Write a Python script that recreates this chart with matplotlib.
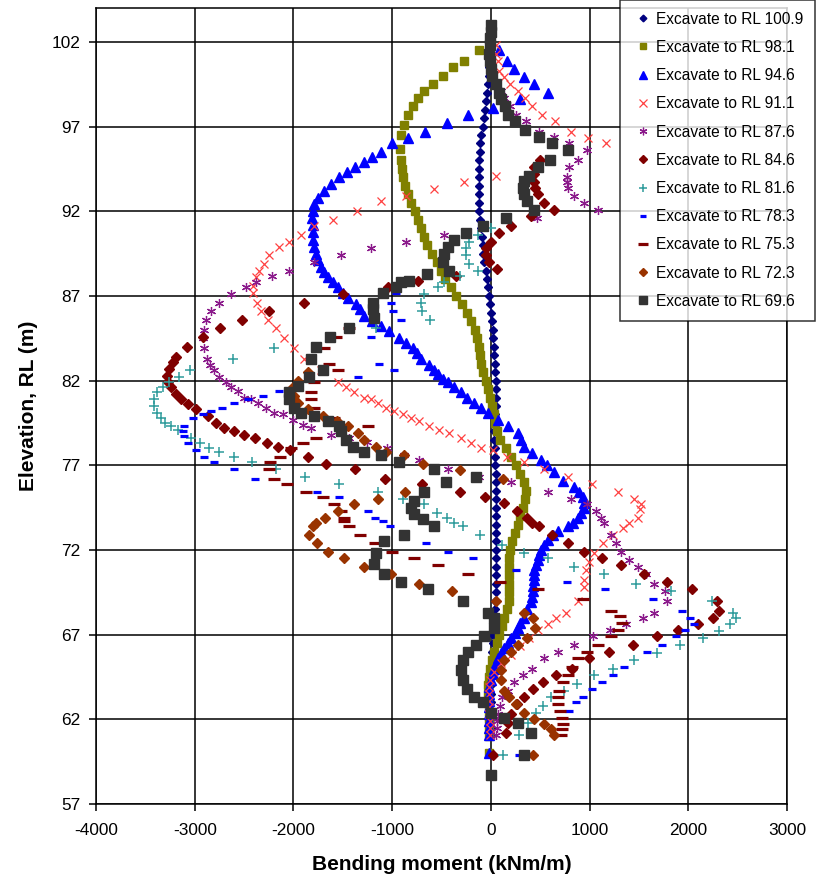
import matplotlib
matplotlib.use("Agg")
import matplotlib.pyplot as plt

plt.rcParams['font.family'] = ['Liberation Sans', 'DejaVu Sans']
plt.rcParams['axes.unicode_minus'] = False

# (elevation RL m, bending moment kNm/m)
rl_100_9 = [(103.0, 0), (102.5, 0), (102.0, -5), (101.5, -10), (101.0, -10), (100.5, -15), (100.0, -20),
            (99.5, -25), (99.0, -35), (98.5, -45), (98.0, -55), (97.5, -70), (97.0, -80), (96.5, -95),
            (96.0, -105), (95.5, -115), (95.0, -120), (94.5, -125), (94.0, -125), (93.5, -125), (93.0, -125),
            (92.5, -120), (92.0, -120), (91.5, -110), (91.0, -100), (90.5, -90), (90.0, -80), (89.5, -75),
            (89.0, -65), (88.5, -50), (88.0, -40), (87.5, -30), (87.0, -20), (86.5, -5), (86.0, 5),
            (85.5, 15), (85.0, 20), (84.5, 25), (84.0, 30), (83.5, 35), (83.0, 40), (82.5, 45), (82.0, 50),
            (81.5, 50), (81.0, 50), (80.5, 50), (80.0, 45), (79.5, 40), (79.0, 30), (78.5, 35), (78.0, 40),
            (77.5, 40), (77.0, 45), (76.5, 50), (76.0, 50), (75.5, 55), (75.0, 55), (74.5, 55), (74.0, 55),
            (73.5, 55), (73.0, 55), (72.5, 55), (72.0, 55), (71.5, 55), (71.0, 50), (70.5, 50), (70.0, 50),
            (69.5, 50), (69.0, 45), (68.5, 40), (68.0, 35), (67.5, 30), (67.0, 25), (66.5, 20), (66.0, 15),
            (65.5, 10), (65.0, 5), (64.5, 0), (64.0, 0), (63.5, 0), (63.0, 0), (62.5, 0), (62.0, 0),
            (61.5, 0), (61.0, 0)]

rl_98_1 = [(101.5, -122), (100.9, -274), (100.5, -385), (100.0, -487), (99.5, -588), (99.1, -679),
           (98.7, -740), (98.2, -791), (97.7, -842), (97.1, -882), (96.5, -913), (95.7, -923), (95.0, -913),
           (94.5, -905), (94.0, -895), (93.5, -870), (93.0, -835), (92.5, -805), (92.0, -770), (91.5, -735),
           (91.0, -712), (90.5, -680), (90.0, -645), (89.5, -600), (89.0, -550), (88.5, -505), (88.0, -460),
           (87.5, -400), (87.0, -350), (86.5, -295), (86.0, -245), (85.5, -200), (85.0, -165), (84.5, -140),
           (84.0, -120), (83.5, -108), (83.0, -95), (82.5, -75), (82.0, -50), (81.5, -25), (81.0, -5),
           (80.5, 15), (80.0, 30), (79.5, 45), (79.0, 65), (78.5, 90), (78.0, 150), (77.5, 200), (77.0, 250),
           (76.5, 300), (76.0, 335), (75.5, 355), (75.0, 345), (74.5, 325), (74.0, 300), (73.5, 270),
           (73.0, 240), (72.5, 215), (72.0, 195), (71.5, 185), (71.0, 180), (70.5, 180), (70.0, 180),
           (69.5, 180), (69.0, 180), (68.5, 160), (68.0, 135), (67.5, 110), (67.0, 85), (66.5, 60),
           (66.0, 35), (65.5, 10), (65.0, -10), (64.5, -20), (64.0, -30), (63.5, -30), (63.0, -25),
           (62.5, -20), (62.0, -20), (61.5, -15), (61.0, -15), (60.0, -20)]

rl_94_6 = [(101.5, 81), (100.9, 162), (100.4, 233), (99.9, 335), (99.5, 436), (99.0, 578), (98.6, 294),
           (98.1, 20), (97.7, -233), (97.2, -446), (96.7, -669), (96.3, -842), (96.0, -1004), (95.5, -1115),
           (95.2, -1200), (94.9, -1290), (94.6, -1380), (94.3, -1460), (94.0, -1540), (93.6, -1620),
           (93.2, -1690), (92.8, -1750), (92.4, -1790), (92.0, -1805), (91.6, -1810), (91.2, -1805),
           (90.8, -1805), (90.3, -1805), (89.9, -1790), (89.5, -1775), (89.1, -1750), (88.7, -1724),
           (88.4, -1690), (88.1, -1653), (87.8, -1600), (87.5, -1551), (87.2, -1500), (86.9, -1450),
           (86.5, -1369), (86.2, -1330), (85.8, -1288), (85.5, -1200), (85.2, -1115), (84.9, -1034),
           (84.5, -933), (84.2, -860), (83.9, -791), (83.6, -750), (83.3, -710), (82.9, -629), (82.6, -580),
           (82.4, -537), (82.1, -480), (81.9, -436), (81.6, -370), (81.3, -304), (81.0, -240), (80.7, -172),
           (80.4, -100), (80.1, -30), (79.7, 71), (79.3, 172), (78.9, 274), (78.5, 305), (78.1, 335),
           (77.7, 420), (77.3, 507), (77.0, 570), (76.6, 639), (76.1, 730), (75.7, 842), (75.4, 890),
           (75.1, 933), (74.8, 945), (74.5, 943), (74.2, 915), (73.9, 882), (73.6, 830), (73.4, 781),
           (73.1, 679), (72.9, 630), (72.6, 578), (72.3, 540), (72.0, 507), (71.7, 490), (71.4, 477),
           (71.1, 455), (70.8, 436), (70.5, 436), (70.2, 436), (69.9, 430), (69.6, 426), (69.2, 415),
           (68.9, 406), (68.5, 370), (68.0, 335), (67.7, 300), (67.4, 274), (67.1, 245), (66.8, 205),
           (66.5, 172), (66.2, 135), (65.9, 101), (65.6, 75), (65.3, 51), (65.0, 35), (64.7, 20), (64.3, 0),
           (63.9, -20), (63.5, -20), (63.1, -20), (62.7, -20), (62.3, -20), (61.9, -20), (61.5, -20),
           (61.1, -20), (60.0, -20)]

rl_91_1 = [(101.8, 51), (101.3, 55), (100.9, 71), (100.3, 81), (99.9, 132), (99.5, 193), (99.1, 274),
           (98.7, 345), (98.2, 416), (97.7, 517), (97.3, 649), (96.7, 811), (96.3, 984), (96.0, 1166),
           (94.1, 51), (93.7, -274), (93.3, -578), (92.9, -862), (92.6, -1115), (92.0, -1360), (91.5, -1602),
           (91.1, -1795), (90.6, -1927), (90.2, -2048), (89.9, -2150), (89.4, -2251), (88.9, -2302),
           (88.5, -2352), (88.1, -2383), (87.6, -2413), (87.2, -2413), (86.6, -2373), (86.1, -2332),
           (85.6, -2261), (85.1, -2180), (84.5, -2099), (83.9, -1998), (83.3, -1896), (82.6, -1720),
           (81.9, -1551), (81.6, -1470), (81.3, -1389), (81.0, -1288), (80.9, -1217), (80.7, -1146),
           (80.4, -1065), (80.2, -984), (80.0, -892), (79.8, -811), (79.6, -730), (79.3, -629), (79.1, -527),
           (78.9, -426), (78.6, -304), (78.3, -203), (78.0, -101), (77.9, 20), (77.5, 162), (77.2, 335),
           (76.8, 537), (76.3, 781), (75.9, 1024), (75.4, 1288), (75.0, 1450), (74.7, 1521), (74.4, 1511),
           (73.9, 1490), (73.6, 1399), (73.3, 1338), (72.9, 1237), (72.4, 1136), (71.8, 1044), (71.3, 994),
           (70.8, 963), (70.2, 943), (69.8, 943), (69.0, 882), (68.3, 760), (68.0, 659), (67.6, 578),
           (67.3, 477), (66.8, 385), (66.3, 300), (65.8, 200), (65.3, 100), (64.8, 30), (64.3, -10),
           (63.9, -20), (63.5, -20), (63.1, -20), (62.7, -20), (62.3, -15), (61.9, -10), (61.5, -10),
           (61.1, -10)]

rl_87_6 = [(99.5, 60), (99.1, 100), (98.7, 132), (98.2, 190), (97.7, 254), (97.3, 355), (96.7, 487),
           (96.4, 639), (96.0, 791), (95.6, 973), (95.0, 882), (94.6, 791), (94.0, 771), (93.7, 775),
           (93.4, 781), (92.9, 842), (92.5, 943), (92.1, 1085), (91.6, 470), (90.6, -477), (90.2, -862),
           (89.8, -1217), (89.4, -1521), (89.0, -1795), (88.5, -2048), (88.2, -2221), (87.8, -2383),
           (87.5, -2484), (87.1, -2636), (86.6, -2758), (86.1, -2839), (85.6, -2890), (85.0, -2910),
           (84.5, -2915), (83.9, -2910), (83.3, -2880), (82.9, -2849), (82.6, -2809), (82.2, -2758),
           (81.9, -2687), (81.6, -2636), (81.4, -2565), (81.0, -2505), (80.9, -2434), (80.7, -2363),
           (80.4, -2282), (80.1, -2200), (80.0, -2109), (79.7, -2008), (79.4, -1906), (79.2, -1825),
           (78.8, -1622), (78.6, -1440), (78.4, -1250), (78.0, -1050), (77.6, -880), (77.3, -730),
           (76.8, -436), (76.3, -122), (76.0, 203), (75.4, 578), (75.0, 811), (74.7, 973), (74.3, 1065),
           (73.9, 1115), (73.6, 1146), (72.9, 1217), (72.4, 1268), (71.9, 1318), (71.4, 1399), (71.0, 1490),
           (70.6, 1572), (70.0, 1653), (69.6, 1764), (69.0, 1785), (68.3, 1653), (68.0, 1541), (67.6, 1369),
           (67.3, 1207), (66.9, 1034), (66.4, 842), (66.0, 679), (65.6, 537), (65.0, 416), (64.6, 325),
           (64.2, 233), (63.7, 172), (63.3, 112), (62.8, 91), (62.3, 71), (61.9, 65), (61.5, 61), (61.1, 51)]

rl_84_6 = [(95.0, 497), (94.6, 436), (94.2, 436), (93.7, 436), (93.4, 446), (93.0, 477), (92.5, 537),
           (92.1, 639), (91.7, 406), (91.1, 203), (90.7, 81), (90.2, 0), (89.8, -51), (89.4, -51),
           (89.0, -20), (88.6, 61), (88.2, -355), (87.9, -740), (87.5, -1044), (87.1, -1500), (86.6, -1896),
           (86.1, -2251), (85.6, -2525), (85.1, -2748), (84.6, -2920), (84.0, -3083), (83.4, -3194),
           (83.1, -3225), (82.7, -3265), (82.3, -3285), (81.9, -3275), (81.6, -3245), (81.2, -3194),
           (80.9, -3143), (80.6, -3072), (80.3, -2991), (79.9, -2870), (79.5, -2789), (79.2, -2707),
           (79.0, -2606), (78.8, -2505), (78.6, -2393), (78.3, -2271), (78.1, -2160), (77.9, -2038),
           (77.5, -1856), (77.1, -1673), (76.8, -1379), (76.2, -1075), (75.9, -700), (75.4, -314),
           (75.1, -61), (74.8, 132), (74.3, 264), (73.9, 365), (73.6, 416), (73.4, 487), (72.9, 619),
           (72.4, 781), (71.9, 943), (71.5, 1126), (71.1, 1318), (70.6, 1551), (70.1, 1785), (69.7, 2038),
           (69.0, 2292), (68.4, 2312), (68.0, 2251), (67.6, 2099), (67.3, 1896), (66.9, 1683), (66.4, 1440),
           (66.0, 1196), (65.6, 994), (65.0, 821), (64.6, 659), (64.2, 527), (63.8, 426), (63.3, 335),
           (62.9, 264), (62.3, 203), (61.8, 172), (61.2, 152), (59.9, 20)]

rl_81_6 = [(91.0, 0), (90.6, -132), (90.2, -223), (89.8, -254), (89.4, -254), (88.9, -223), (88.5, -132),
           (88.2, -314), (87.8, -477), (87.5, -537), (87.1, -679), (86.6, -710), (86.1, -700), (85.6, -618),
           (85.1, -1166), (83.9, -2200), (83.3, -2616), (82.6, -3052), (82.2, -3164), (81.9, -3265),
           (81.6, -3326), (81.3, -3377), (80.9, -3417), (80.5, -3417), (80.1, -3387), (79.8, -3346),
           (79.5, -3296), (79.3, -3245), (79.1, -3174), (78.6, -3042), (78.3, -2951), (78.0, -2859),
           (77.8, -2758), (77.5, -2606), (77.2, -2424), (76.8, -2180), (76.3, -1886), (75.9, -1541),
           (75.4, -1146), (75.0, -892), (74.7, -679), (74.2, -548), (73.9, -446), (73.6, -375), (73.4, -284),
           (72.9, -112), (72.3, 112), (71.8, 335), (71.5, 578), (71.0, 842), (70.6, 1146), (70.0, 1470),
           (69.6, 1825), (69.0, 2241), (68.3, 2454), (68.0, 2484), (67.6, 2423), (67.2, 2312), (66.8, 2150),
           (66.4, 1916), (65.9, 1683), (65.5, 1450), (65.0, 1237), (64.6, 1044), (64.1, 872), (63.7, 740),
           (63.3, 608), (62.8, 527), (62.4, 456), (61.8, 375), (61.1, 284), (59.9, 122)]

rl_78_3 = [(87.2, -963), (86.6, -1014), (86.1, -994), (85.6, -913), (84.6, -1217), (83.0, -1136),
           (82.6, -984), (82.2, -1349), (81.4, -2150), (81.1, -2312), (80.9, -2464), (80.7, -2606),
           (80.4, -2728), (80.2, -2839), (80.0, -2920), (79.8, -3022), (79.3, -3113), (79.0, -3123),
           (78.7, -3113), (78.3, -3072), (77.9, -2991), (77.5, -2910), (77.2, -2809), (76.8, -2606),
           (76.2, -2393), (75.4, -1764), (75.1, -1541), (74.3, -1247), (73.9, -1176), (73.7, -1095),
           (73.4, -1024), (72.4, -659), (71.9, -436), (71.5, -183), (70.8, 250), (70.1, 771), (69.7, 1156),
           (69.1, 1643), (68.4, 1937), (68.0, 2018), (67.6, 2058), (67.3, 1967), (66.9, 1876), (66.4, 1734),
           (66.0, 1582), (65.1, 1349), (64.6, 1237), (64.2, 1126), (63.8, 1024), (63.3, 933), (63.0, 862),
           (62.5, 791), (59.9, 284)]

rl_75_3 = [(85.1, -1440), (84.6, -1571), (83.9, -1693), (83.0, -1643), (82.6, -1551), (81.9, -1795),
           (81.3, -1825), (80.9, -1825), (80.4, -1795), (79.9, -1724), (79.8, -1592), (79.3, -1247),
           (78.6, -1775), (78.3, -1906), (78.0, -2028), (77.5, -2140), (77.2, -2241), (76.8, -2251),
           (76.2, -2200), (75.9, -2068), (75.4, -1876), (75.1, -1703), (74.7, -1592), (74.3, -1521),
           (73.9, -1490), (73.7, -1490), (73.4, -1440), (72.9, -1328), (72.4, -1176), (71.9, -1004),
           (71.5, -781), (71.1, -537), (70.6, -233), (70.1, 91), (69.7, 477), (69.1, 933), (68.4, 1217),
           (68.1, 1308), (67.7, 1328), (67.3, 1288), (66.9, 1217), (66.4, 1085), (66.0, 973), (65.6, 882),
           (65.1, 820), (64.6, 781), (64.2, 730), (63.7, 690), (63.3, 679), (62.9, 685), (62.5, 700),
           (62.1, 720), (61.7, 730), (61.4, 720), (61.1, 710)]

rl_72_3 = [(82.5, -1850), (82.0, -1950), (81.6, -2000), (81.1, -1998), (80.7, -1950), (80.3, -1850),
           (79.9, -1700), (79.6, -1560), (79.3, -1450), (78.9, -1349), (78.5, -1288), (78.1, -1166),
           (77.8, -1065), (77.6, -882), (77.1, -690), (76.7, -314), (76.2, 120), (75.4, -872), (75.0, -1146),
           (74.7, -1389), (74.3, -1551), (73.9, -1683), (73.6, -1775), (73.4, -1805), (72.9, -1845),
           (72.4, -1764), (71.9, -1653), (71.5, -1490), (71.0, -1288), (70.6, -1014), (70.0, -730),
           (69.6, -395), (69.0, 51), (68.3, 335), (68.0, 426), (67.4, 446), (66.8, 365), (66.4, 274),
           (66.0, 203), (65.5, 132), (64.9, 101), (64.3, 101), (63.7, 132), (63.3, 183), (62.9, 254),
           (62.4, 335), (62.0, 436), (61.7, 537), (61.4, 608), (61.1, 639), (59.9, 426)]

rl_69_6 = [(103.0, 0), (102.6, 0), (102.2, -10), (101.8, -10), (101.3, -20), (100.9, -10), (100.4, 0),
           (100.0, 10), (99.5, 51), (99.0, 81), (98.6, 101), (98.2, 142), (97.7, 172), (97.3, 243),
           (96.8, 345), (96.4, 487), (96.0, 619), (95.6, 781), (95.0, 598), (94.6, 477), (94.1, 385),
           (93.8, 335), (93.4, 324), (93.0, 335), (92.6, 365), (92.1, 436), (91.6, 152), (91.1, -81),
           (90.7, -254), (90.3, -375), (89.9, -436), (89.5, -477), (89.0, -487), (88.5, -426), (88.3, -649),
           (87.9, -832), (87.8, -913), (87.5, -963), (87.2, -1095), (86.6, -1196), (86.2, -1196),
           (85.7, -1186), (85.1, -1440), (84.6, -1632), (84.0, -1775), (83.3, -1825), (82.6, -1703),
           (82.2, -1845), (81.7, -1957), (81.3, -2048), (80.9, -2048), (80.4, -1998), (80.1, -1927),
           (79.9, -1795), (79.6, -1653), (79.3, -1541), (79.0, -1521), (78.5, -1470), (78.1, -1399),
           (77.8, -1288), (77.6, -1115), (77.2, -933), (76.8, -578), (76.3, -152), (76.0, -456),
           (75.4, -679), (74.9, -781), (74.5, -811), (74.1, -781), (73.8, -690), (73.4, -578), (72.9, -882),
           (72.5, -1085), (71.8, -1160), (71.2, -1180), (70.6, -1085), (70.1, -913), (69.7, -639),
           (69.0, -284), (68.3, -30), (68.0, 30), (67.4, 30), (66.9, -71), (66.4, -152), (66.0, -233),
           (65.5, -284), (64.9, -304), (64.3, -284), (63.8, -243), (63.3, -172), (63.0, -81), (62.4, 0),
           (62.1, 132), (61.8, 274), (61.2, 406), (59.9, 335), (58.7, 0)]

series = [
    ('Excavate to RL 100.9', rl_100_9, dict(marker='D', ms=4.0, color='#000080', mec='#000080')),
    ('Excavate to RL 98.1', rl_98_1, dict(marker='s', ms=5.8, color='#808000', mec='#808000')),
    ('Excavate to RL 94.6', rl_94_6, dict(marker='^', ms=6.8, color='#0000FF', mec='#0000FF')),
    ('Excavate to RL 91.1', rl_91_1, dict(marker='x', ms=6.0, color='#FF4040', mew=0.9)),
    ('Excavate to RL 87.6', rl_87_6, dict(marker=(6, 2, 0), ms=6.5, color='#8B1A8B', mew=0.9)),
    ('Excavate to RL 84.6', rl_84_6, dict(marker='D', ms=5.0, color='#800000', mec='#800000')),
    ('Excavate to RL 81.6', rl_81_6, dict(marker='+', ms=6.5, color='#2E9B9B', mew=1.1)),
    ('Excavate to RL 78.3', rl_78_3, dict(marker='_', ms=5.5, color='#0000FF', mew=2.3)),
    ('Excavate to RL 75.3', rl_75_3, dict(marker='_', ms=8.5, color='#800000', mew=2.3)),
    ('Excavate to RL 72.3', rl_72_3, dict(marker='D', ms=5.0, color='#993300', mec='#993300')),
    ('Excavate to RL 69.6', rl_69_6, dict(marker='s', ms=6.5, color='#333333', mec='#333333')),
]

x_ticks = [-4000, -3000, -2000, -1000, 0, 1000, 2000, 3000]
y_ticks = [57, 62, 67, 72, 77, 82, 87, 92, 97, 102]

fig = plt.figure(figsize=(8.18, 8.83), dpi=100)
ax = fig.add_axes([96 / 818, 1 - 804 / 883, 691 / 818, 796 / 883])

handles = []
for label, pts, style in series:
    elev = [p[0] for p in pts]
    bm = [p[1] for p in pts]
    h, = ax.plot(bm, elev, linestyle='none', label=label, **style)
    handles.append(h)

ax.set_xlim(-4000, 3000)
ax.set_ylim(57, 104)
ax.set_xticks(x_ticks)
ax.set_yticks(y_ticks)
ax.grid(True, color='black', linewidth=1.1)
for s in ax.spines.values():
    s.set_color('black')
    s.set_linewidth(1.1)
ax.tick_params(direction='out', length=5, width=1.1, labelsize=12.4)
ax.tick_params(axis='x', pad=9)
ax.tick_params(axis='y', pad=6)
ax.set_xlabel('Bending moment (kNm/m)', fontsize=15, fontweight='bold', labelpad=12)
ax.set_ylabel('Elevation, RL (m)', fontsize=15, fontweight='bold', labelpad=10)

leg = fig.legend(handles=handles, loc='upper left', bbox_to_anchor=(620 / 818, 1.0),
                 fontsize=11.2, frameon=True, fancybox=False, edgecolor='black',
                 borderpad=0.75, labelspacing=0.85, handlelength=1.4, handletextpad=0.15,
                 borderaxespad=0, markerscale=0.85)
leg.get_frame().set_linewidth(1.1)

fig.savefig('out.png', dpi=100)
